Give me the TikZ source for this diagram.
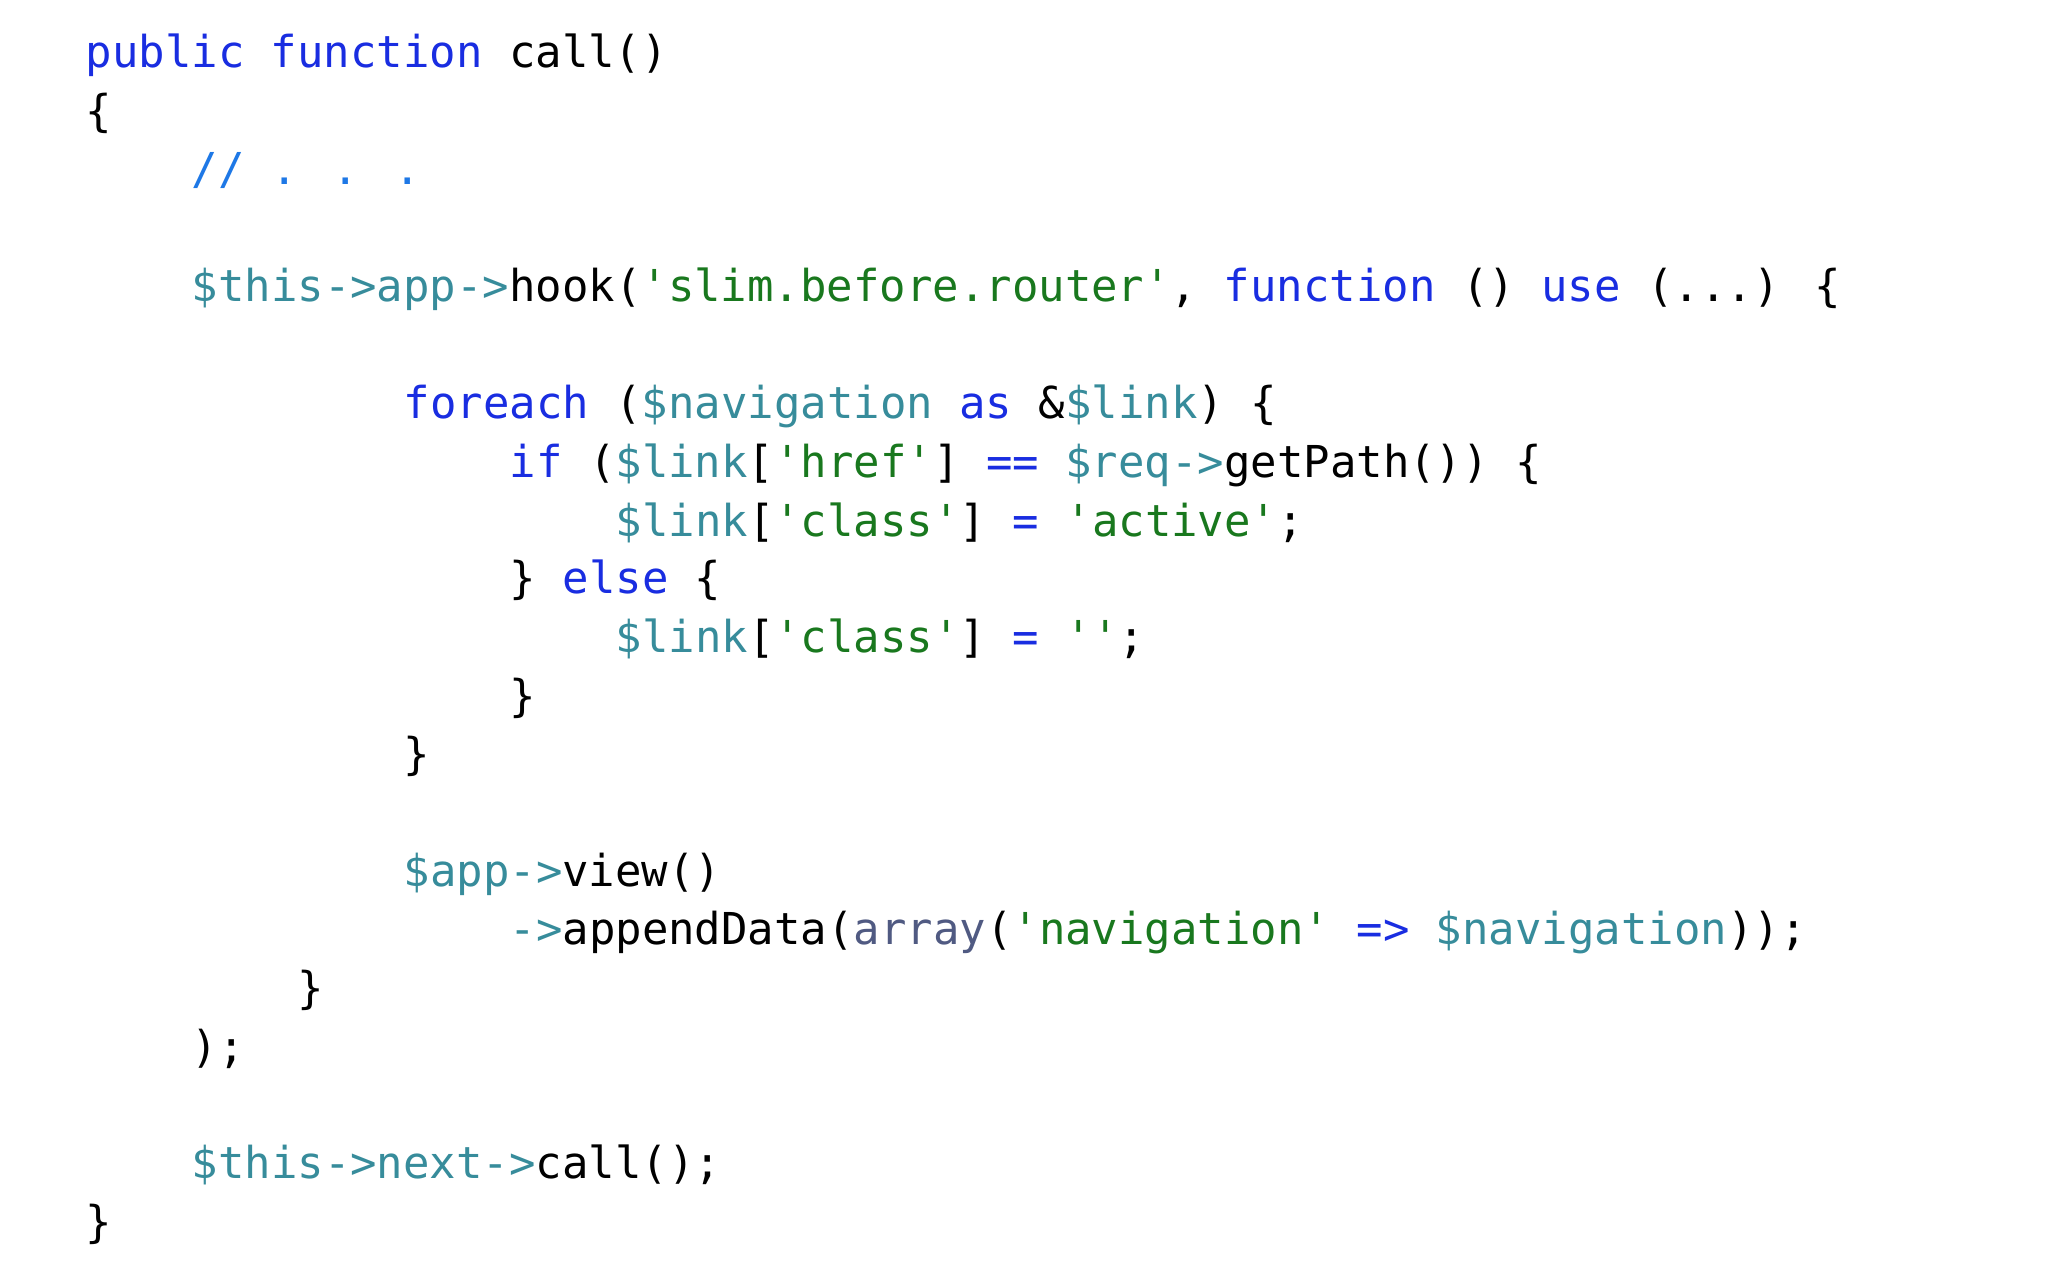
\documentclass[tikz,border=0pt]{standalone}
\usepackage{fontspec}
\newfontfamily\codefont{DejaVu Sans Mono}
\definecolor{kw}{RGB}{25,45,225}
\definecolor{vr}{RGB}{55,140,155}
\definecolor{st}{RGB}{25,120,30}
\definecolor{cm}{RGB}{30,120,230}
\definecolor{ar}{RGB}{80,90,130}
\newcommand\Kw[1]{\textcolor{kw}{#1}}
\newcommand\Vr[1]{\textcolor{vr}{#1}}
\newcommand\Sr[1]{\textcolor{st}{#1}}
\begin{document}
\begin{tikzpicture}[x=0.01cm,y=-0.01cm,
  codeline/.style={anchor=base west,inner sep=0pt,font=\codefont\fontsize{12.5}{15}\selectfont}]
\useasboundingbox (0,0) rectangle (2048,1280);
\fill[white] (0,0) rectangle (2048,1280);
\def\cx#1{85+#1*26.5}
\node[codeline] (l1) at ({\cx{0}},68) {\Kw{public function} call()};
\node[codeline] (l2) at ({\cx{0}},127) {\{};
\node[codeline] (l3) at ({\cx{4}},185) {\textcolor{cm}{// . . .}};
\node[codeline] (l4) at ({\cx{4}},302) {\Vr{\$this->app->}hook(\Sr{'slim.before.router'}, \Kw{function} () \Kw{use} (...) \{};
\node[codeline] (l5) at ({\cx{12}},419) {\Kw{foreach} (\Vr{\$navigation} \Kw{as} \&\Vr{\$link}) \{};
\node[codeline] (l6) at ({\cx{16}},478) {\Kw{if} (\Vr{\$link}[\Sr{'href'}] \Kw{==} \Vr{\$req->}getPath()) \{};
\node[codeline] (l7) at ({\cx{20}},537) {\Vr{\$link}[\Sr{'class'}] \Kw{=} \Sr{'active'};};
\node[codeline] (l8) at ({\cx{16}},594) {\} \Kw{else} \{};
\node[codeline] (l9) at ({\cx{20}},653) {\Vr{\$link}[\Sr{'class'}] \Kw{=} \Sr{''};};
\node[codeline] (l10) at ({\cx{16}},712) {\}};
\node[codeline] (l11) at ({\cx{12}},770) {\}};
\node[codeline] (l12) at ({\cx{12}},887) {\Vr{\$app->}view()};
\node[codeline] (l13) at ({\cx{16}},945) {\Vr{->}appendData(\textcolor{ar}{array}(\Sr{'navigation'} \Kw{=>} \Vr{\$navigation}));};
\node[codeline] (l14) at ({\cx{8}},1004) {\}};
\node[codeline] (l15) at ({\cx{4}},1063) {);};
\node[codeline] (l16) at ({\cx{4}},1179) {\Vr{\$this->next->}call();};
\node[codeline] (l17) at ({\cx{0}},1238) {\}};
\end{tikzpicture}
\end{document}
